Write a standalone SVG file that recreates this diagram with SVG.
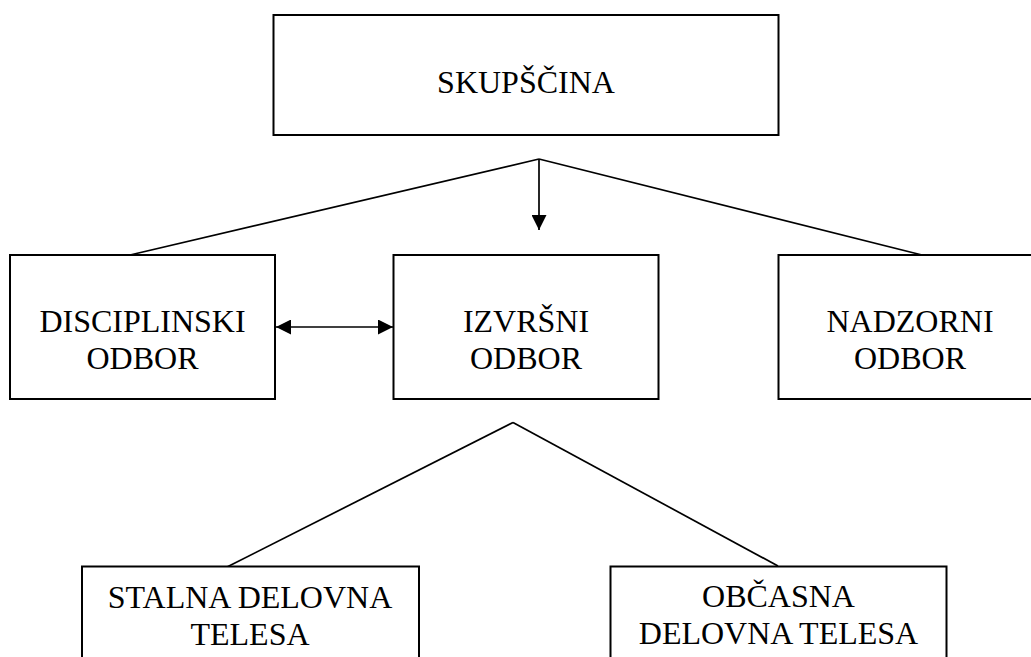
<svg xmlns="http://www.w3.org/2000/svg" width="1031" height="657" viewBox="0 0 1031 657">
<style>
.box{fill:#fff;stroke:#000;stroke-width:2}
.lbl{font-family:"Liberation Serif","Times New Roman",serif;font-size:32px;fill:#000;text-anchor:middle}
.ln{fill:none;stroke:#000;stroke-width:1.7}
</style>
<defs>
<marker id="ah" viewBox="0 0 15 15" refX="15" refY="7.5" markerWidth="15" markerHeight="15" markerUnits="userSpaceOnUse" orient="auto-start-reverse">
<path d="M0,0 L15,7.5 L0,15 Z" fill="#000"/>
</marker>
</defs>
<rect width="1031" height="657" fill="#fff"/>
<g id="connectors">
<line class="ln" x1="539" y1="159" x2="130" y2="255"/>
<line class="ln" x1="539" y1="159" x2="922" y2="255"/>
<line class="ln" x1="539" y1="159" x2="539" y2="230" marker-end="url(#ah)"/>
<line class="ln" x1="276" y1="327" x2="393" y2="327" marker-start="url(#ah)" marker-end="url(#ah)"/>
<line class="ln" x1="513" y1="422.5" x2="227" y2="567"/>
<line class="ln" x1="513" y1="422.5" x2="778" y2="566"/>
</g>
<g id="skupscina">
<rect class="box" x="273.5" y="15" width="505" height="120"/>
<text class="lbl" x="526" y="93">SKUPŠČINA</text>
</g>
<g id="disciplinski">
<rect class="box" x="10" y="255" width="265" height="144"/>
<text class="lbl" x="142.5" y="332">DISCIPLINSKI</text>
<text class="lbl" x="142.5" y="368.5">ODBOR</text>
</g>
<g id="izvrsni">
<rect class="box" x="393.5" y="255" width="265" height="144"/>
<text class="lbl" x="526" y="332">IZVRŠNI</text>
<text class="lbl" x="526" y="368.5">ODBOR</text>
</g>
<g id="nadzorni">
<rect class="box" x="778.5" y="255" width="264" height="144"/>
<text class="lbl" x="910" y="332">NADZORNI</text>
<text class="lbl" x="910" y="368.5">ODBOR</text>
</g>
<g id="stalna">
<rect class="box" x="82" y="566.5" width="337" height="120"/>
<text class="lbl" x="250" y="607.5">STALNA DELOVNA</text>
<text class="lbl" x="250" y="644.5">TELESA</text>
</g>
<g id="obcasna">
<rect class="box" x="610.5" y="566.5" width="336" height="120"/>
<text class="lbl" x="778.5" y="607">OBČASNA</text>
<text class="lbl" x="778.5" y="644">DELOVNA TELESA</text>
</g>
</svg>
